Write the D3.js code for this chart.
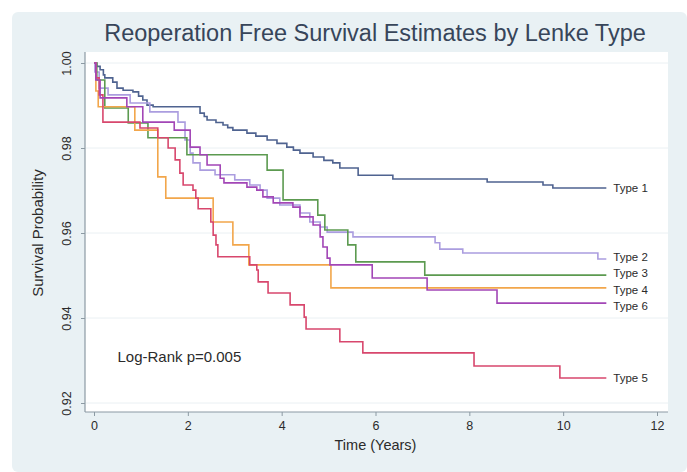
<!DOCTYPE html>
<html>
<head>
<meta charset="utf-8">
<script src="https://cdn.jsdelivr.net/npm/d3@7"></script>
<style>
  html, body { margin: 0; padding: 0; background: #ffffff; }
  svg { display: block; font-family: "Liberation Sans", Arial, sans-serif; }
</style>
</head>
<body>
<svg id="chart" width="687" height="472"></svg>
<script>
// Kaplan-Meier step estimates: [time in years, survival probability]
const type1 = [[0,1],[0.06,0.9992],[0.13,0.9984],[0.2,0.9972],[0.23,0.9965],[0.4,0.9955],[0.49,0.9941],
  [0.62,0.9936],[0.83,0.9932],[0.95,0.9922],[1.04,0.9913],[1.13,0.9901],[1.26,0.9897],[2.26,0.9882],
  [2.35,0.9874],[2.41,0.9866],[2.6,0.986],[2.75,0.9854],[2.85,0.9848],[2.96,0.9842],[3.26,0.9835],
  [3.45,0.9828],[3.69,0.9819],[3.9,0.9811],[4.11,0.9802],[4.25,0.9795],[4.39,0.9788],[4.67,0.9779],
  [4.9,0.9771],[5.09,0.9765],[5.24,0.9753],[5.63,0.9736],[6.37,0.9727],[8.38,0.972],[9.57,0.9713],[9.78,0.9706]];
const type2 = [[0,1],[0.02,0.9979],[0.11,0.9941],[0.3,0.9925],[0.77,0.9906],[1.19,0.9885],[1.79,0.9861],
  [1.94,0.9819],[2.05,0.9788],[2.11,0.9765],[2.26,0.9748],[2.58,0.9737],[3.0,0.9725],[3.32,0.9713],
  [3.54,0.9701],[3.69,0.9682],[3.96,0.9666],[4.39,0.9647],[4.6,0.9626],[4.82,0.9614],[4.97,0.9602],
  [5.52,0.9591],[7.27,0.9577],[7.37,0.9562],[7.86,0.9553],[10.74,0.9539]];
const type3 = [[0,1],[0.06,0.996],[0.23,0.9894],[0.73,0.9859],[1.15,0.9824],[1.98,0.9784],[3.69,0.9748],
  [4.03,0.9678],[4.77,0.9642],[4.92,0.9607],[5.41,0.9572],[5.58,0.9532],[7.05,0.9501]];
const type4 = [[0,1],[0.04,0.9934],[0.09,0.9897],[0.87,0.9842],[1.36,0.9732],[1.53,0.9682],[2.54,0.9626],
  [2.96,0.9572],[3.3,0.9525],[5.05,0.9471]];
const type5 = [[0,1],[0.04,0.9965],[0.11,0.9925],[0.19,0.9861],[0.98,0.9847],[1.36,0.9824],[1.58,0.98],
  [1.73,0.9772],[1.83,0.9741],[1.9,0.9713],[2.11,0.9701],[2.17,0.9682],[2.22,0.9657],[2.49,0.9626],
  [2.54,0.9595],[2.6,0.9572],[2.64,0.9544],[3.32,0.9525],[3.47,0.9513],[3.5,0.9485],[3.71,0.9459],
  [4.18,0.9431],[4.48,0.9402],[4.52,0.9374],[5.24,0.9344],[5.73,0.9318],[8.1,0.9287],[9.93,0.9259]];
const type6 = [[0,1],[0.04,0.996],[0.13,0.9918],[0.7,0.9897],[1.04,0.9861],[1.71,0.9842],[2.05,0.9802],
  [2.26,0.9784],[2.41,0.976],[2.69,0.9729],[2.77,0.9718],[3.26,0.9708],[3.47,0.9701],[3.6,0.9685],
  [3.82,0.9671],[4.24,0.9661],[4.39,0.9638],[4.67,0.9619],[4.82,0.9591],[4.88,0.9567],[4.97,0.9541],
  [5.03,0.9525],[5.93,0.9494],[7.1,0.9466],[8.59,0.9435]];

const seriesNames  = ["Type 1", "Type 2", "Type 3", "Type 4", "Type 5", "Type 6"];
const seriesData   = [type1, type2, type3, type4, type5, type6];
const seriesColors = ["#4f6390", "#ab9ddf", "#5c9a50", "#f2a64b", "#d8476d", "#a246b6"];
const followUpEnd  = 10.92;

const xTicks = [0, 2, 4, 6, 8, 10, 12];
const yTicks = [0.92, 0.94, 0.96, 0.98, 1.00];

const titleText = "Reoperation Free Survival Estimates by Lenke Type";
const xTitle = "Time (Years)";
const yTitle = "Survival Probability";
const noteText = "Log-Rank p=0.005";

const W = 687, H = 472;
const plot = { left: 85, right: 668, top: 52, bottom: 412 };

const svg = d3.select("#chart");

// graph region background
svg.append("rect").attr("x", 12).attr("y", 12).attr("width", W - 12).attr("height", H - 12)
  .attr("rx", 6).attr("fill", "#e9f1f4");

// plot region
svg.append("rect").attr("x", plot.left).attr("y", plot.top)
  .attr("width", plot.right - plot.left).attr("height", plot.bottom - plot.top)
  .attr("fill", "#ffffff");

const x = d3.scaleLinear().domain([0, 12]).range([94, 657]);
const y = d3.scaleLinear().domain([0.92, 1.00]).range([403, 63]);

// horizontal grid lines
svg.append("g").selectAll("line").data(yTicks).join("line")
  .attr("x1", plot.left + 1).attr("x2", plot.right)
  .attr("y1", d => y(d)).attr("y2", d => y(d))
  .attr("stroke", "#eaf0f3").attr("stroke-width", 1);

// axes
const yAxis = d3.axisLeft(y).tickValues(yTicks).tickFormat(d3.format(".2f")).tickSize(4).tickPadding(6);
const gy = svg.append("g").attr("transform", `translate(${plot.left},0)`).call(yAxis);
gy.select(".domain").attr("d", `M0,${plot.top}V${plot.bottom}`);
const xAxis = d3.axisBottom(x).tickValues(xTicks).tickFormat(d3.format("d")).tickSize(4).tickPadding(5);
const gx = svg.append("g").attr("transform", `translate(0,${plot.bottom})`).call(xAxis);
gx.select(".domain").attr("d", `M${plot.left},0H${plot.right}`);

[gx, gy].forEach(g => {
  g.select(".domain").attr("stroke", "#8c9aa3").attr("stroke-width", 1.2);
  g.selectAll(".tick line").attr("stroke", "#8c9aa3");
  g.selectAll(".tick text").attr("fill", "#2b2b2b").attr("font-size", 12.5)
    .attr("font-family", "Liberation Sans, Arial, sans-serif");
});
// rotated y tick labels
gy.selectAll(".tick text")
  .attr("transform", "rotate(-90)")
  .attr("x", 0).attr("y", -14).attr("dy", "0")
  .attr("text-anchor", "middle");

// survival curves
const line = d3.line().x(d => x(d[0])).y(d => y(d[1])).curve(d3.curveStepAfter);
seriesData.forEach((s, i) => {
  const pts = s.concat([[followUpEnd, s[s.length - 1][1]]]);
  svg.append("path").datum(pts).attr("d", line)
    .attr("fill", "none").attr("stroke", seriesColors[i]).attr("stroke-width", 1.6)
    .attr("stroke-linejoin", "miter");
});

// end-of-line labels, spread apart where they would collide
const labels = seriesData.map((s, i) => ({ name: seriesNames[i], y: y(s[s.length - 1][1]) }));
const sorted = labels.slice().sort((a, b) => a.y - b.y);
for (let iter = 0; iter < 60; iter++) {
  for (let k = 1; k < sorted.length; k++) {
    const gap = sorted[k].y - sorted[k - 1].y;
    if (gap < 16.5) {
      const shift = (16.5 - gap) / 2;
      sorted[k - 1].y -= shift;
      sorted[k].y += shift;
    }
  }
}
svg.append("g").selectAll("text").data(labels).join("text")
  .attr("x", x(followUpEnd) + 7).attr("y", d => d.y).attr("dy", "0.35em")
  .attr("font-size", 11.5).attr("fill", "#2b2b2b").text(d => d.name);

// test annotation
svg.append("text").attr("x", x(0.5)).attr("y", y(0.931)).attr("dy", "0.35em")
  .attr("font-size", 15).attr("fill", "#2b2b2b").text(noteText);

// titles
svg.append("text").attr("x", 375).attr("y", 41).attr("text-anchor", "middle")
  .attr("font-size", 23.5).attr("fill", "#37455a").text(titleText);
svg.append("text").attr("x", x(6)).attr("y", 450).attr("text-anchor", "middle")
  .attr("font-size", 14.5).attr("fill", "#2b2b2b").text(xTitle);
svg.append("text").attr("transform", `translate(43,${y(0.96)}) rotate(-90)`)
  .attr("text-anchor", "middle").attr("font-size", 15).attr("fill", "#2b2b2b").text(yTitle);
</script>
</body>
</html>
